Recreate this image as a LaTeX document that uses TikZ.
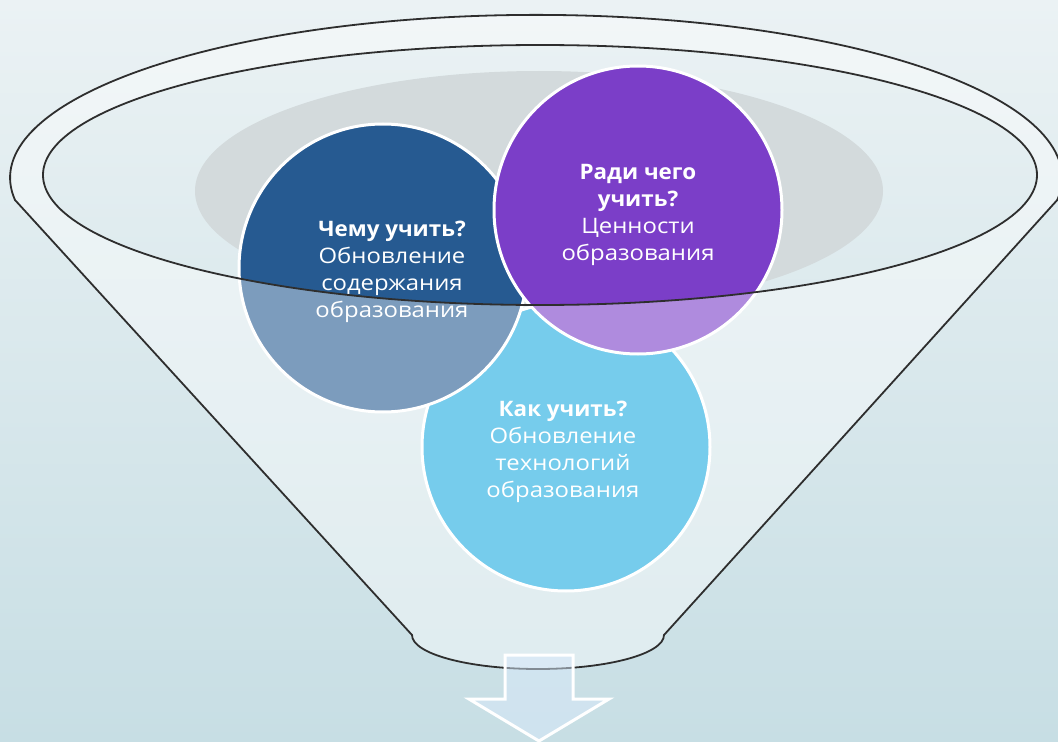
\documentclass[tikz,border=0pt]{standalone}
\usepackage{fontspec}
\setmainfont{Open Sans}[FakeStretch=1.12,BoldFeatures={FakeStretch=1.05}]

\definecolor{bgtop}{HTML}{EBF2F4}
\definecolor{bgbot}{HTML}{C7DEE4}
\definecolor{backgray}{HTML}{D3DADC}
\definecolor{funnelline}{HTML}{2E2E2E}
\definecolor{arrowblue}{HTML}{D7E8FA}
\definecolor{whatblue}{HTML}{265A91}
\definecolor{whypurple}{HTML}{7B3EC8}
\definecolor{howcyan}{HTML}{1BAAE0}

\begin{document}
\begin{tikzpicture}[x=0.75pt,y=0.75pt,
  ball/.style={circle,draw=white,line width=2.25pt,minimum size=216pt,inner sep=0pt},
  label text/.style={text=white,align=center,font=\fontsize{16}{20.25}\selectfont},
  rim/.style={draw=funnelline,line width=1.35pt}]

  \useasboundingbox (0,0) rectangle (1058,-742);
  \shade[top color=bgtop,bottom color=bgbot] (0,0) rectangle (1058,-742);

  % back of the funnel
  \begin{scope}
    \clip (540,-175) ellipse [x radius=497,y radius=130];
    \fill[backgray] (539,-191) ellipse [x radius=344,y radius=120];
  \end{scope}

  \node[ball,fill=howcyan] (how) at (566,-447) {};
  \node[ball,fill=whatblue] (what) at (383,-268) {};
  \node[ball,fill=whypurple] (why) at (638,-210) {};

  % front of the funnel
  \fill[white,fill opacity=0.4,even odd rule]
    (15,-200) arc[start angle=187.8,end angle=-7.8,x radius=526,y radius=163]
    -- (664,-635) arc[start angle=0,end angle=-180,x radius=126,y radius=34]
    -- cycle
    (540,-175) ellipse [x radius=497,y radius=130];

  \draw[rim] (15,-200) arc[start angle=187.8,end angle=-7.8,x radius=526,y radius=163]
    -- (664,-635) arc[start angle=0,end angle=-180,x radius=126,y radius=34]
    -- cycle;
  \draw[rim] (540,-175) ellipse [x radius=497,y radius=130];

  \node[label text] (what text) at (392,-272) {\textbf{Чему учить?}\\Обновление\\содержания\\образования};
  \node[label text] (why text) at (638,-215) {\textbf{Ради чего}\\\textbf{учить?}\\Ценности\\образования};
  \node[label text] (how text) at (563,-452) {\textbf{Как учить?}\\Обновление\\технологий\\образования};

  \draw[white,line width=2.25pt,fill=arrowblue,fill opacity=0.5]
    (505,-655) -- (573,-655) -- (573,-699) -- (609,-699) -- (539,-741)
    -- (469,-699) -- (505,-699) -- cycle;
\end{tikzpicture}
\end{document}
